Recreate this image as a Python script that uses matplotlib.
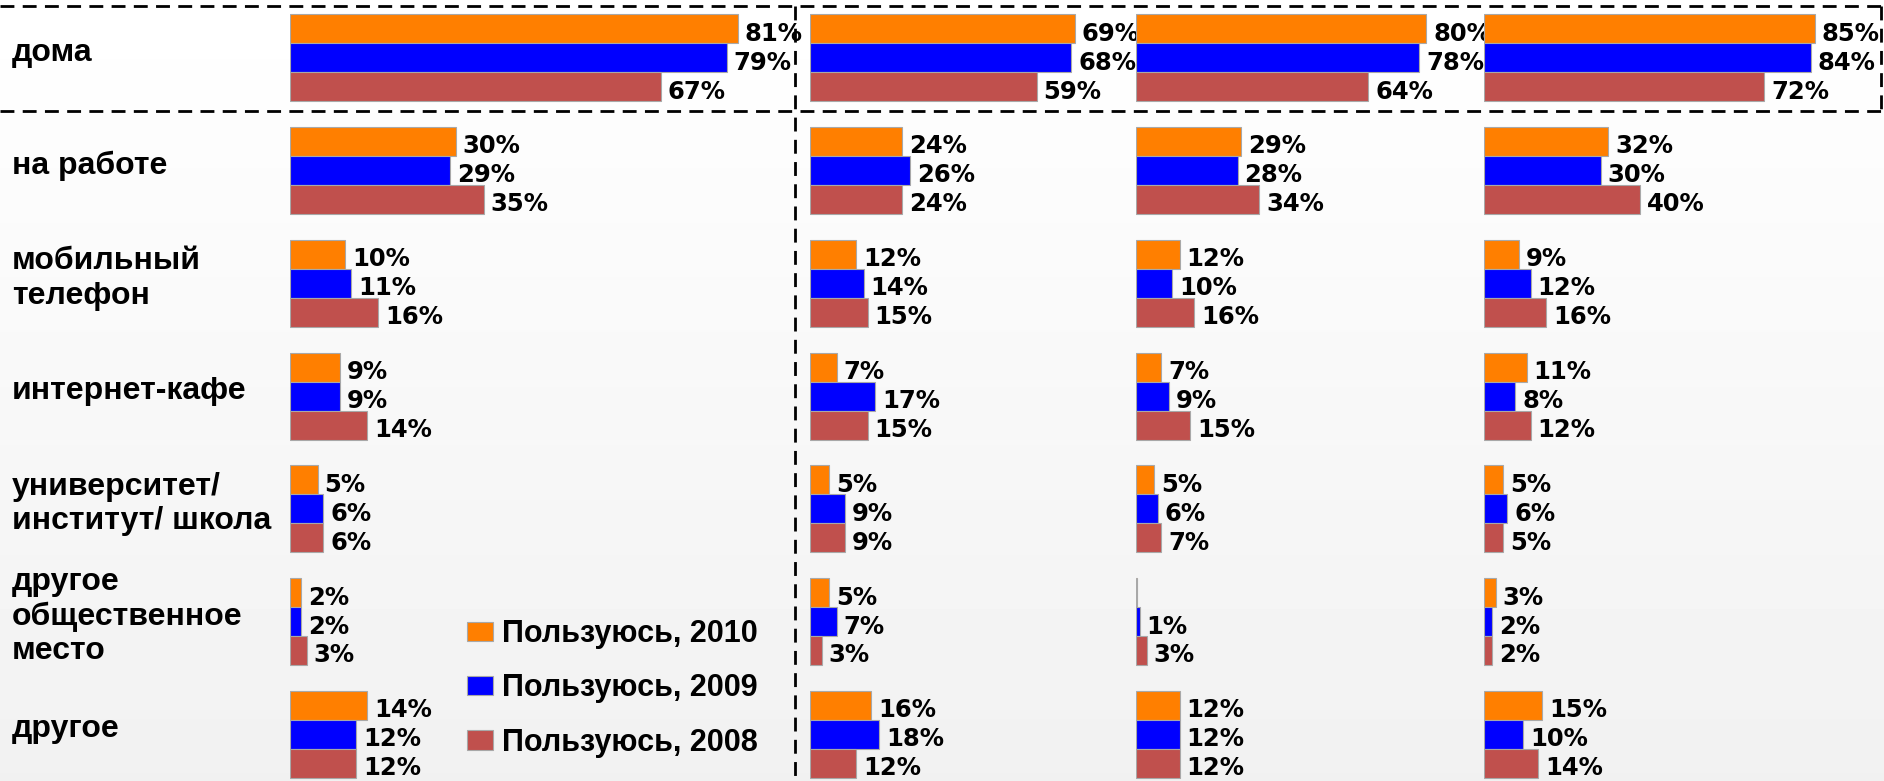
import numpy as np
import matplotlib
matplotlib.use("Agg")
import matplotlib.pyplot as plt

# Места пользования интернетом, % (4 группы респондентов)
categories = ["дома", "на работе", "мобильный\nтелефон", "интернет-кафе",
              "университет/\nинститут/ школа", "другое\nобщественное\nместо", "другое"]
series_names = ["Пользуюсь, 2010", "Пользуюсь, 2009", "Пользуюсь, 2008"]

panel1_2010 = [81, 30, 10, 9, 5, 2, 14]
panel1_2009 = [79, 29, 11, 9, 6, 2, 12]
panel1_2008 = [67, 35, 16, 14, 6, 3, 12]

panel2_2010 = [69, 24, 12, 7, 5, 5, 16]
panel2_2009 = [68, 26, 14, 17, 9, 7, 18]
panel2_2008 = [59, 24, 15, 15, 9, 3, 12]

panel3_2010 = [80, 29, 12, 7, 5, 0.3, 12]   # tiny bar without a label
panel3_2009 = [78, 28, 10, 9, 6, 1, 12]
panel3_2008 = [64, 34, 16, 15, 7, 3, 12]

panel4_2010 = [85, 32, 9, 11, 5, 3, 15]
panel4_2009 = [84, 30, 12, 8, 6, 2, 10]
panel4_2008 = [72, 40, 16, 12, 5, 2, 14]

panels = [
    [panel1_2010, panel1_2009, panel1_2008],
    [panel2_2010, panel2_2009, panel2_2008],
    [panel3_2010, panel3_2009, panel3_2008],
    [panel4_2010, panel4_2009, panel4_2008],
]
colors = ["#FF7F00", "#0000FF", "#C0504D"]

W, H = 1884, 781
fig = plt.figure(figsize=(W / 100, H / 100), dpi=100)

# background gradient + dashed frame lines, in pixel coordinates
bg = fig.add_axes([0, 0, 1, 1])
grad = np.linspace(1.0, 0.945, 200).reshape(-1, 1)
bg.imshow(grad, extent=[0, W, H, 0], cmap="gray", vmin=0, vmax=1, aspect="auto")
bg.set_xlim(0, W)
bg.set_ylim(H, 0)
bg.axis("off")
dash = dict(color="black", lw=2.0, linestyle=(0, (5, 3)))
bg.plot([0, W], [6, 6], **dash)
bg.plot([0, W], [111, 111], **dash)
bg.plot([W - 3, W - 3], [6, 111], **dash)
bg.plot([795, 795], [6, H], **dash)

# panel geometry: left edge (px) and pixels per percent
lefts = [290, 810, 1136, 1484]
px_per_pct = [5.53, 3.84, 3.63, 3.89]

rows = np.arange(len(categories))
h = 0.257
offsets = [-h, 0, h]
y_top, y_bot = -0.512, 6.413

handles = None
for left, ppp, data in zip(lefts, px_per_pct, panels):
    ax = fig.add_axes([left / W, 0, 100 * ppp / W, 1])
    ax.patch.set_alpha(0)
    ax.set_xlim(0, 100)
    ax.set_ylim(y_bot, y_top)
    ax.axis("off")
    bars = []
    for vals, off, c in zip(data, offsets, colors):
        b = ax.barh(rows + off, vals, height=h, color=c, edgecolor="#a8a8a8", linewidth=0.8)
        bars.append(b)
        for v, y in zip(vals, rows + off):
            if v < 0.5:
                continue
            ax.annotate(f"{v:g}%", (v, y), xytext=(5, -3.5), textcoords="offset points",
                        va="center", ha="left", fontsize=17.5, fontweight="bold",
                        family="DejaVu Sans", annotation_clip=False)
    if handles is None:
        handles = bars

# category labels
row_px = 57.7
step = 112.8
for i, cat in enumerate(categories):
    fig.text(12 / W, 1 - (row_px + i * step - 5) / H, cat, ha="left", va="center",
             fontsize=23, fontweight="bold", family=["Liberation Sans", "DejaVu Sans"])

leg = fig.legend(handles, series_names, loc="upper left",
                 bbox_to_anchor=(467 / W, 1 - 619 / H), frameon=False,
                 borderpad=0, borderaxespad=0, handlelength=0.85, handleheight=0.6,
                 handletextpad=0.3, labelspacing=0.8,
                 prop={"family": ["Liberation Sans", "DejaVu Sans"], "weight": "bold", "size": 22})

fig.savefig("out.png", dpi=100)
